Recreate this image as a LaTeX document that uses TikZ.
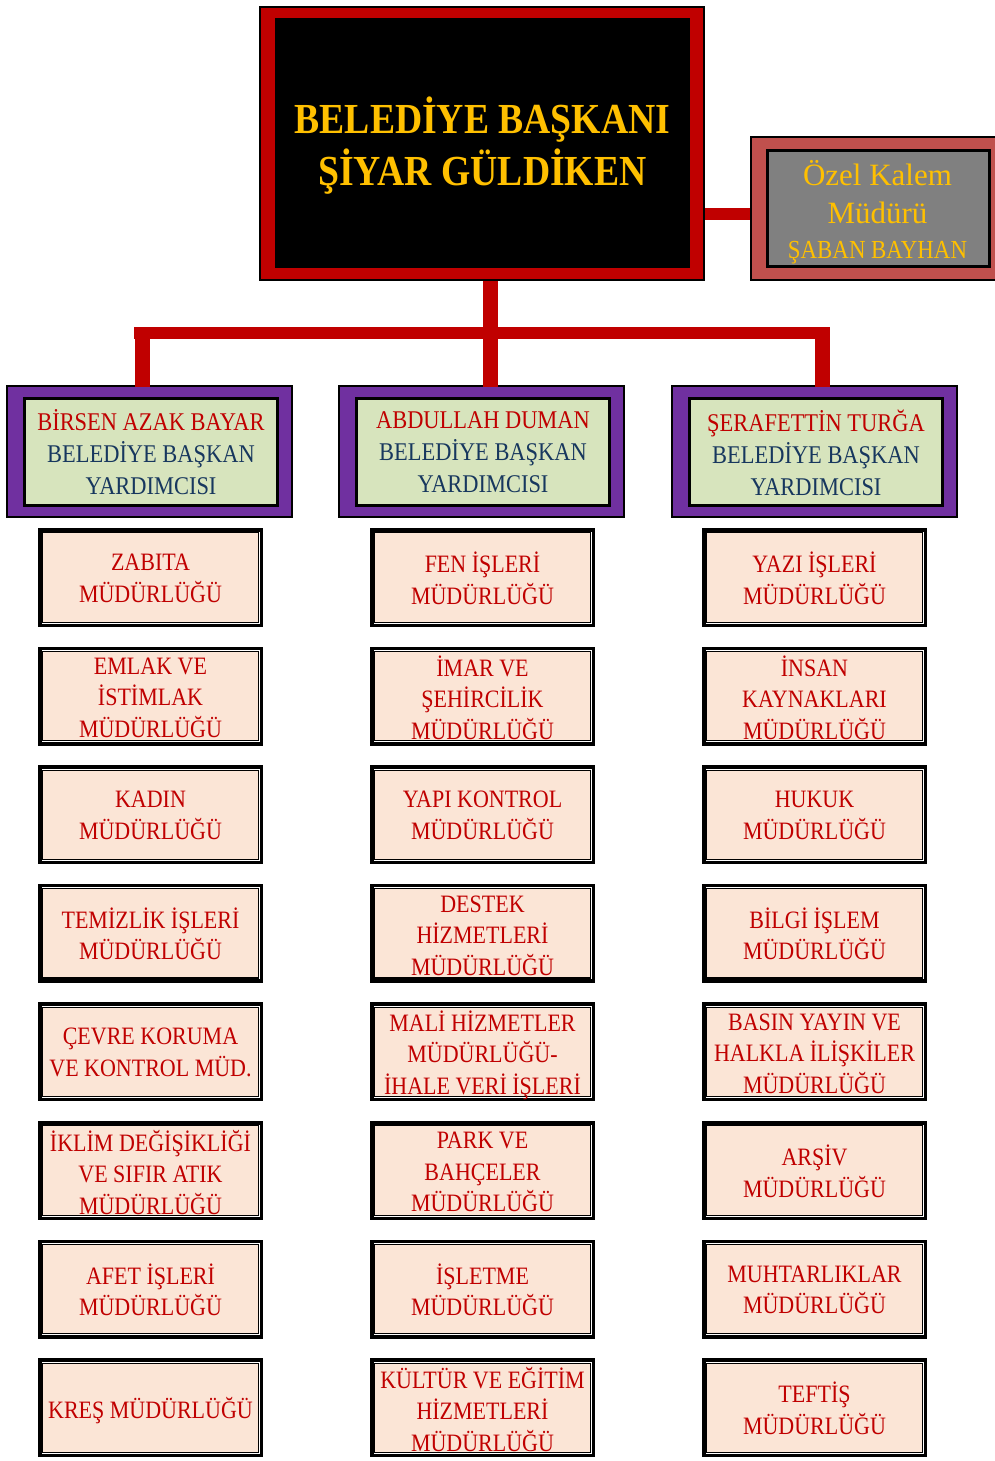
\documentclass[tikz,border=0pt]{standalone}
\usepackage{fontspec}
\setmainfont[FakeStretch=0.88]{Liberation Serif}
\newfontfamily\wideserif{Liberation Serif}
\definecolor{conred}{HTML}{C00000}
\definecolor{specred}{HTML}{C0504D}
\definecolor{gold}{HTML}{FFC000}
\definecolor{vppurple}{HTML}{7030A0}
\definecolor{vpgreen}{HTML}{D7E4BD}
\definecolor{navy}{HTML}{17375E}
\definecolor{unitfill}{HTML}{FBE5D6}
\definecolor{unittext}{HTML}{C00000}
\definecolor{specgrey}{HTML}{808080}
\newcommand{\topstrut}{\rule{0pt}{1.22em}}
\newcommand{\botstrut}{\rule[-0.2em]{0pt}{0.2em}}
\begin{document}
\begin{tikzpicture}[x=1pt,y=-1pt,
  vconn/.style={draw=conred, line width=15pt},
  hconn/.style={draw=conred, line width=12pt},
  bossout/.style={rectangle, draw=black, line width=2pt, fill=conred, minimum width=444pt, minimum height=273pt, inner sep=0pt},
  bossin/.style={rectangle, fill=black, minimum width=415pt, minimum height=250pt, inner sep=0pt},
  bosstxt/.style={anchor=base, text=gold, inner sep=0pt, font=\fontsize{42.8}{52}\selectfont\bfseries},
  specout/.style={rectangle, draw=black, line width=2pt, fill=specred, minimum width=246pt, minimum height=143pt, inner sep=0pt},
  specin/.style={rectangle, draw=black, line width=3pt, fill=specgrey, minimum width=222pt, minimum height=116.5pt, inner sep=0pt},
  spectxt/.style={anchor=base, text=gold, inner sep=0pt},
  vpout/.style={rectangle, draw=black, line width=2pt, fill=vppurple, minimum width=285pt, minimum height=131pt, inner sep=0pt},
  vpin/.style={rectangle, draw=black, line width=3pt, fill=vpgreen, minimum width=253pt, minimum height=107pt, inner sep=0pt},
  vptxt/.style={inner sep=0pt, text=navy, align=center, font=\fontsize{25.5}{32}\selectfont,
    execute at begin node=\topstrut, execute at end node=\botstrut},
  unitgap/.style={draw=white, line width=0.8pt},
  unitinner/.style={draw=black, line width=1.1pt},
  unit/.style={rectangle, draw=black, line width=3.5pt, fill=unitfill, minimum width=221.5pt, minimum height=95.5pt, inner sep=0pt,
    path picture={
      \draw[unitgap] ([shift={(2.15pt,2.15pt)}]path picture bounding box.south west) rectangle ([shift={(-2.15pt,-2.15pt)}]path picture bounding box.north east);
      \draw[unitinner] ([shift={(3.1pt,3.1pt)}]path picture bounding box.south west) rectangle ([shift={(-3.1pt,-3.1pt)}]path picture bounding box.north east);
    }},
  unittxt/.style={inner sep=0pt, text=unittext, align=center, font=\fontsize{25}{31.5}\selectfont,
    execute at begin node=\topstrut, execute at end node=\botstrut}
]
\useasboundingbox (0,0) rectangle (995,1461);

% Mayor
\node[bossout] (boss) at (482,143.5) {};
\node[bossin] (bossin) at (482.5,143) {};
\node[bosstxt] (b1) at (482.5,133) {BELEDİYE BAŞKANI};
\node[bosstxt] (b2) at (482.5,185) {ŞİYAR GÜLDİKEN};

% Private office
\node[specout] (spec) at (874,208.5) {};
\node[specin] (specin) at (878.5,208.25) {};
\node[spectxt, font=\wideserif\fontsize{31}{38}\selectfont] (s1) at (877.5,185) {Özel Kalem};
\node[spectxt, font=\wideserif\fontsize{31}{38}\selectfont] (s2) at (877.5,223) {Müdürü};
\node[spectxt, font=\fontsize{26}{30}\selectfont] (s3) at (877.5,258) {ŞABAN BAYHAN};

% Deputies
\node[vpout] (vp1) at (149.5,451.5) {};
\node[vpin] (vp1in) at (151,452) {};
\node[vptxt] (vp1t) at (151,455) {{\color{conred}BİRSEN AZAK BAYAR}\\BELEDİYE BAŞKAN\\YARDIMCISI};
\node[vpout] (vp2) at (481.5,451.5) {};
\node[vpin] (vp2in) at (483,452) {};
\node[vptxt] (vp2t) at (483,455) {{\color{conred}ABDULLAH DUMAN}\\BELEDİYE BAŞKAN\\YARDIMCISI};
\node[vpout] (vp3) at (814.5,451.5) {};
\node[vpin] (vp3in) at (816,452) {};
\node[vptxt] (vp3t) at (816,455) {{\color{conred}ŞERAFETTİN TURĞA}\\BELEDİYE BAŞKAN\\YARDIMCISI};

% Connectors
\coordinate (bar) at (482,333);
\coordinate (bartop) at (482,327);
\draw[vconn] ([xshift=8pt]boss.south) -- ([xshift=8.5pt,yshift=-1.5pt]vp2.north);
\draw[hconn] ([xshift=-15.5pt]vp1.north |- bar) -- ([xshift=15.5pt]vp3.north |- bar);
\draw[vconn] ([xshift=-7.5pt,yshift=-1.5pt]vp1.north) -- ([xshift=-7.5pt]vp1.north |- bartop);
\draw[vconn] ([xshift=7.5pt,yshift=-1.5pt]vp3.north) -- ([xshift=7.5pt]vp3.north |- bartop);
\draw[hconn] ([yshift=-5.5pt]spec.west) -- ([yshift=-5.5pt]spec.west -| boss.east);

% Units (text / vertical offset of the text block)
\foreach \t/\d [count=\i] in {{ZABITA\\MÜDÜRLÜĞÜ}/3,{EMLAK VE\\İSTİMLAK\\MÜDÜRLÜĞÜ}/4,{KADIN\\MÜDÜRLÜĞÜ}/3,{TEMİZLİK İŞLERİ\\MÜDÜRLÜĞÜ}/3,{ÇEVRE KORUMA\\VE KONTROL MÜD.}/3,{İKLİM DEĞİŞİKLİĞİ\\VE SIFIR ATIK\\MÜDÜRLÜĞÜ}/4,{AFET İŞLERİ\\MÜDÜRLÜĞÜ}/3,{KREŞ MÜDÜRLÜĞÜ}/-2}{
  \pgfmathsetmacro\yy{577.5+118.6*(\i-1)}
  \node[unit] (a\i) at (150.5,\yy) {};
  \node[unittxt] (a\i t) at ([shift={(0,\d)}]a\i.center) {\t};
}
\foreach \t/\d [count=\i] in {{FEN İŞLERİ\\MÜDÜRLÜĞÜ}/3,{İMAR VE\\ŞEHİRCİLİK\\MÜDÜRLÜĞÜ}/4,{YAPI KONTROL\\MÜDÜRLÜĞÜ}/3,{DESTEK\\HİZMETLERİ\\MÜDÜRLÜĞÜ}/4.5,{MALİ HİZMETLER\\MÜDÜRLÜĞÜ-\\İHALE VERİ İŞLERİ}/3,{PARK VE\\BAHÇELER\\MÜDÜRLÜĞÜ}/4,{İŞLETME\\MÜDÜRLÜĞÜ}/3,{KÜLTÜR VE EĞİTİM\\HİZMETLERİ\\MÜDÜRLÜĞÜ}/4}{
  \pgfmathsetmacro\yy{577.5+118.6*(\i-1)}
  \node[unit] (b\i) at (482.5,\yy) {};
  \node[unittxt] (b\i t) at ([shift={(0,\d)}]b\i.center) {\t};
}
\foreach \t/\d [count=\i] in {{YAZI İŞLERİ\\MÜDÜRLÜĞÜ}/3,{İNSAN\\KAYNAKLARI\\MÜDÜRLÜĞÜ}/4,{HUKUK\\MÜDÜRLÜĞÜ}/3,{BİLGİ İŞLEM\\MÜDÜRLÜĞÜ}/3,{BASIN YAYIN VE\\HALKLA İLİŞKİLER\\MÜDÜRLÜĞÜ}/4,{ARŞİV\\MÜDÜRLÜĞÜ}/3,{MUHTARLIKLAR\\MÜDÜRLÜĞÜ}/3,{TEFTİŞ\\MÜDÜRLÜĞÜ}/3}{
  \pgfmathsetmacro\yy{577.5+118.6*(\i-1)}
  \node[unit] (c\i) at (814.5,\yy) {};
  \node[unittxt] (c\i t) at ([shift={(0,\d)}]c\i.center) {\t};
}
\end{tikzpicture}
\end{document}
